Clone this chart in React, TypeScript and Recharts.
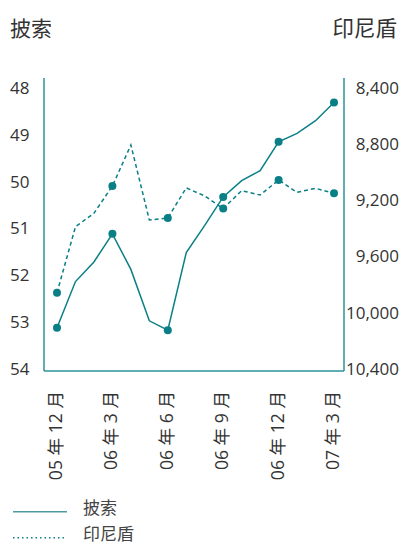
import React from 'react';
import { LineChart, Line, XAxis, YAxis, Legend, Label } from 'recharts';

const months = [
  '05 年 12 月', '06 年 1 月', '06 年 2 月', '06 年 3 月', '06 年 4 月', '06 年 5 月',
  '06 年 6 月', '06 年 7 月', '06 年 8 月', '06 年 9 月', '06 年 10 月', '06 年 11 月',
  '06 年 12 月', '07 年 1 月', '07 年 2 月', '07 年 3 月',
];
const peso = [53.13, 52.14, 51.72, 51.12, 51.88, 52.98, 53.18, 51.52, 50.94, 50.33, 49.98, 49.77, 49.15, 48.97, 48.7, 48.31];
const rupiah = [9860, 9389, 9293, 9099, 8806, 9341, 9327, 9112, 9170, 9260, 9132, 9163, 9056, 9144, 9115, 9151];
const pesoTicks = [48, 49, 50, 51, 52, 53, 54];
const rupiahTicks = [8400, 8800, 9200, 9600, 10000, 10400];
const pesoName = '披索';
const rupiahName = '印尼盾';
const legendOrder = ['peso', 'rupiah'];

const data = months.map((m, i) => ({ m, peso: peso[i], rupiah: rupiah[i] }));

const FONT = "'Open Sans', 'Noto Sans CJK SC', sans-serif";
const TEAL = '#0a7f86';
const AXIS = '#2b9399';
const TEXT = '#333333';

const fmt = (v: number) => v.toLocaleString('en-US');

const LeftTick = (props: any) => {
  const { x, y, payload } = props;
  return (
    <text x={x - 6.5} y={y} dy="0.36em" textAnchor="end" fontSize={17} fill={TEXT} fontFamily={FONT}>
      {payload.value}
    </text>
  );
};

const RightTick = (props: any) => {
  const { x, y, payload } = props;
  return (
    <text x={x + 47} y={y} dy="0.36em" textAnchor="end" fontSize={17} fill={TEXT} fontFamily={FONT}>
      {fmt(payload.value)}
    </text>
  );
};

const XTick = (props: any) => {
  const { x, y, payload } = props;
  return (
    <text
      transform={`translate(${x + 5},${y + 12}) rotate(-90)`}
      textAnchor="end"
      fontSize={17.6}
      fill={TEXT}
      fontFamily={FONT}
    >
      {payload.value}
    </text>
  );
};

const LeftTitle = (props: any) => {
  const vb = props.viewBox || { x: 0, y: 78 };
  return (
    <text x={vb.x + 10} y={vb.y - 42} fontSize={21} fill={TEXT} fontFamily={FONT}>
      {pesoName}
    </text>
  );
};

const RightTitle = (props: any) => {
  const vb = props.viewBox || { x: 344, y: 78, width: 56 };
  return (
    <text x={vb.x + vb.width - 3} y={vb.y - 42} textAnchor="end" fontSize={21.5} fill={TEXT} fontFamily={FONT}>
      {rupiahName}
    </text>
  );
};

const makeDot = (color: string) => (props: any) => {
  const { cx, cy, index } = props;
  if (index % 3 !== 0) return <g key={`d${index}`} />;
  return <circle key={`d${index}`} cx={cx} cy={cy} r={4} fill={color} stroke="none" />;
};

const LegendContent = (props: any) => {
  const payload = [...(props.payload || [])].sort(
    (a: any, b: any) => legendOrder.indexOf(a.dataKey) - legendOrder.indexOf(b.dataKey)
  );
  return (
    <div style={{ width: 400, height: 50, position: 'relative' }}>
      <svg width={400} height={50} style={{ position: 'absolute', left: 0, top: 0 }}>
        {payload.map((p: any, i: number) => {
          const y = 18.7 + i * 26;
          const dashed = p.dataKey === 'rupiah';
          return (
            <g key={p.value}>
              <line
                x1={13}
                x2={67}
                y1={y}
                y2={y}
                stroke={dashed ? TEAL : '#4f9aa2'}
                strokeWidth={1.5}
                strokeDasharray={dashed ? '1.5 3' : undefined}
              />
              <text x={83} y={y - 3.5} dy="0.36em" fontSize={17} fill="#444" fontFamily={FONT}>
                {p.value}
              </text>
            </g>
          );
        })}
      </svg>
    </div>
  );
};

export default function App() {
  return (
    <div style={{ position: 'absolute', left: 0, top: 0, width: 400, height: 543, background: '#fff' }}>
      <LineChart width={400} height={543} data={data} margin={{ top: 78, right: 0, bottom: 0, left: 0 }}>
        <XAxis
          dataKey="m"
          interval={2}
          height={122}
          tickLine={false}
          tick={<XTick />}
          axisLine={{ stroke: AXIS, strokeWidth: 1.5 }}
          padding={{ left: 13, right: 10 }}
        />
        <YAxis
          yAxisId="left"
          orientation="left"
          width={44}
          reversed
          type="number"
          domain={[47.786, 54.053]}
          ticks={pesoTicks}
          allowDataOverflow
          tickLine={false}
          tick={<LeftTick />}
          axisLine={{ stroke: AXIS, strokeWidth: 1.5 }}
        >
          <Label content={<LeftTitle />} />
        </YAxis>
        <YAxis
          yAxisId="right"
          orientation="right"
          width={56}
          reversed
          type="number"
          domain={[8328.7, 10417.8]}
          ticks={rupiahTicks}
          allowDataOverflow
          tickLine={false}
          tick={<RightTick />}
          axisLine={{ stroke: AXIS, strokeWidth: 1.5 }}
        >
          <Label content={<RightTitle />} />
        </YAxis>
        <Legend verticalAlign="bottom" align="left" layout="horizontal" content={<LegendContent />} />
        <Line
          yAxisId="left"
          dataKey="peso"
          name={pesoName}
          type="linear"
          stroke={TEAL}
          strokeWidth={1.5}
          dot={makeDot(TEAL)}
          activeDot={false}
          isAnimationActive={false}
        />
        <Line
          yAxisId="right"
          dataKey="rupiah"
          name={rupiahName}
          type="linear"
          stroke={TEAL}
          strokeWidth={1.5}
          strokeDasharray="4 3"
          dot={makeDot(TEAL)}
          activeDot={false}
          isAnimationActive={false}
        />
      </LineChart>
    </div>
  );
}
